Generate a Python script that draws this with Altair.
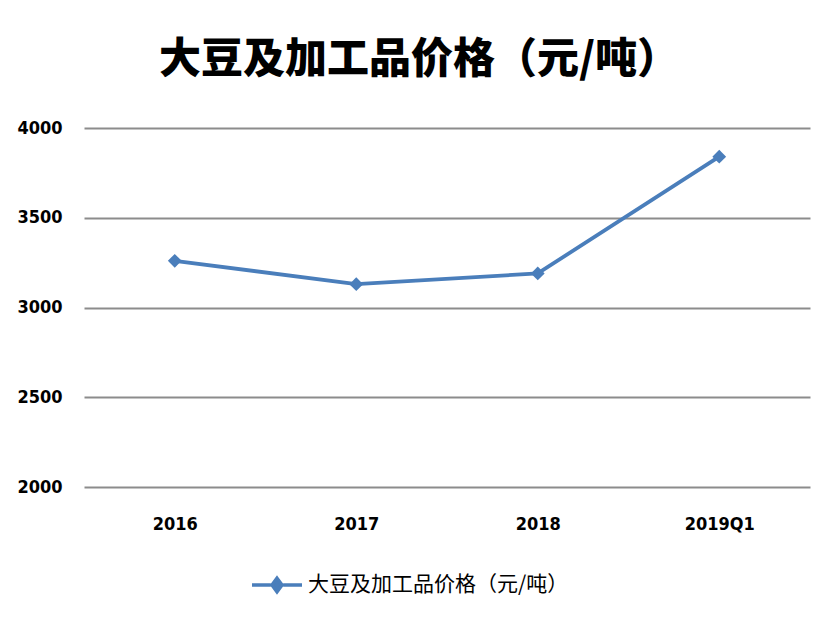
import altair as alt
import pandas as pd

categories = ["2016", "2017", "2018", "2019Q1"]
values = [3260, 3130, 3190, 3840]
series_name = "大豆及加工品价格（元/吨）"
title_text = "大豆及加工品价格（元/吨）"
y_ticks = [2000, 2500, 3000, 3500, 4000]

df = pd.DataFrame({"year": categories, "price": values, "series": [series_name] * len(categories)})

blue = "#4A7EBB"
num_font = "DejaVu Sans Condensed"
cjk = "Noto Sans CJK SC"

x = alt.X("year:N", sort=categories, title=None,
          scale=alt.Scale(type="point", padding=0.5),
          axis=alt.Axis(labelAngle=0, domain=False, ticks=False, grid=False,
                        labelFont=num_font, labelFontWeight="bold", labelFontSize=18,
                        labelColor="#000000", labelPadding=28))
y = alt.Y("price:Q", title=None,
          scale=alt.Scale(domain=[2000, 4000], nice=False, zero=False),
          axis=alt.Axis(values=y_ticks, format="d", domain=False, ticks=False, grid=True,
                        gridColor="#8c8c8c", gridWidth=2,
                        labelFont=num_font, labelFontWeight="bold", labelFontSize=18,
                        labelColor="#000000", labelPadding=22))
color = alt.Color("series:N", title=None,
                  scale=alt.Scale(range=[blue]),
                  legend=alt.Legend(orient="none", legendX=166, legendY=430,
                                    direction="horizontal",
                                    symbolType="M-1,0L-0.25,0M0.25,0L1,0M0,-0.27L0.2,0L0,0.27L-0.2,0Z",
                                    symbolSize=2500, symbolStrokeWidth=3.5,
                                    symbolFillColor=blue, symbolStrokeColor=blue,
                                    labelFont=cjk, labelFontSize=21, labelColor="#000000",
                                    labelOffset=4, labelLimit=400))

line = alt.Chart(df).mark_line(strokeWidth=3.8, color=blue).encode(x=x, y=y, color=color)
pts = alt.Chart(df).mark_point(shape="diamond", filled=True, size=190, opacity=1).encode(
    x=x, y=y, color=alt.Color("series:N", scale=alt.Scale(range=[blue]), legend=None))

chart = (line + pts).properties(
    width=726, height=359, background="white",
    title=alt.Title(title_text, font=cjk, fontSize=42, fontWeight=900, color="#000000",
                    anchor="middle", offset=37, dx=-28),
    padding={"left": 8, "top": 31, "right": 10, "bottom": 5},
).configure_view(stroke="transparent", strokeWidth=0)

chart.save("out.html", embed_options={"renderer": "svg", "actions": False})
